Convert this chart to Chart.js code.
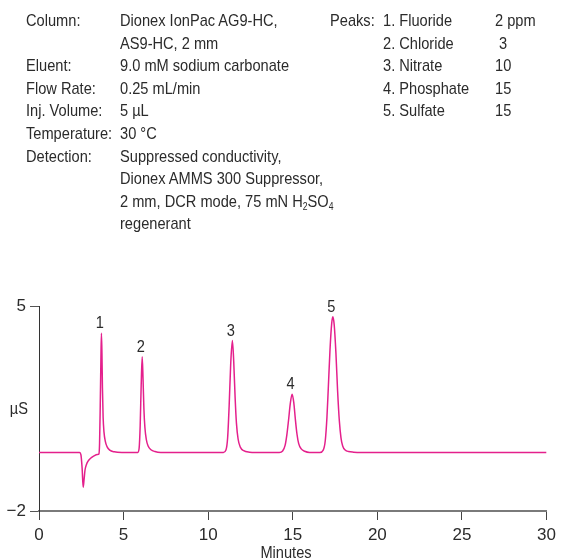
<!DOCTYPE html>
<html>
<head>
<meta charset="utf-8">
<script src="https://cdn.jsdelivr.net/npm/chart.js@4.4.1/dist/chart.umd.min.js"></script>
<style>
  body { margin: 0; background: #fff; }
  #wrap { position: relative; width: 561px; height: 559px; overflow: hidden; }
  canvas { position: absolute; left: 0; top: 0; }
  .txt { position: absolute; font-family: "Liberation Sans", Arial, sans-serif;
         font-size: 17px; line-height: 22.6px; color: #2b2b2b; white-space: nowrap;
         transform: scaleX(0.86); transform-origin: 0 0; }
  .txt sub { font-size: 10px; line-height: 0; vertical-align: -3px; }
  #minutes { position: absolute; top: 543px; left: 236px; width: 100px; text-align: center;
             font-family: "Liberation Sans", Arial, sans-serif; font-size: 17px; line-height: 20px; color: #2b2b2b;
             transform: scaleX(0.86); transform-origin: 50% 0; }
</style>
</head>
<body>
<div id="wrap">
  <canvas id="chart" width="561" height="559"></canvas>
  <div class="txt" id="condLabels" style="left:26px; top:10px;"></div>
  <div class="txt" id="condValues" style="left:120px; top:10px;"></div>
  <div class="txt" style="left:330px; top:10px;">Peaks:</div>
  <div class="txt" id="peakNames" style="left:383px; top:10px;"></div>
  <div class="txt" id="peakAmounts" style="left:495px; top:10px;"></div>
  <div id="minutes">Minutes</div>
</div>
<script>
// conditions text
var condLabels = ['Column:', '', 'Eluent:', 'Flow Rate:', 'Inj. Volume:', 'Temperature:', 'Detection:', '', '', ''];
var condValues = ['Dionex IonPac AG9-HC,', 'AS9-HC, 2 mm', '9.0 mM sodium carbonate', '0.25 mL/min', '5 µL', '30 °C',
                  'Suppressed conductivity,', 'Dionex AMMS 300 Suppressor,', '2 mm, DCR mode, 75 mN H<sub>2</sub>SO<sub>4</sub>', 'regenerant'];
var peakNames = ['1. Fluoride', '2. Chloride', '3. Nitrate', '4. Phosphate', '5. Sulfate'];
var peakAmounts = ['2 ppm', '&nbsp;3', '10', '15', '15'];

// chromatogram trace (minutes, µS)
var times  = [0, 2.40, 2.48, 2.55, 2.61, 2.66, 2.72, 2.80, 2.90, 3.05, 3.25, 3.45, 3.54,
              3.58, 3.62, 3.66, 3.69, 3.72, 3.75, 3.79, 3.84, 3.92, 4.02, 4.18, 4.45, 4.9,
              5.84, 5.92, 5.98, 6.04, 6.10, 6.15, 6.20, 6.26, 6.34, 6.45, 6.62, 6.85, 7.2,
              10.9, 11.05, 11.15, 11.24, 11.33, 11.43, 11.51, 11.59, 11.67, 11.77, 11.9, 12.1, 12.45, 12.8,
              14.2, 14.4, 14.55, 14.65, 14.75, 14.85, 14.96, 15.06, 15.15, 15.25, 15.35, 15.5, 15.7, 16.0,
              16.6, 16.8, 16.92, 17.02, 17.1, 17.2, 17.3, 17.37, 17.45, 17.55, 17.65, 17.75, 17.85, 17.95,
              18.1, 18.3, 18.6, 19.0, 30];
var signal = [0, 0, -0.08, -0.55, -1.19, -0.95, -0.6, -0.42, -0.3, -0.2, -0.12, -0.07, -0.05,
              0.3, 1.6, 3.2, 4.07, 3.4, 2.2, 1.2, 0.7, 0.38, 0.2, 0.08, 0.02, 0,
              0, 0.15, 0.9, 2.3, 3.27, 2.5, 1.5, 0.85, 0.45, 0.22, 0.09, 0.03, 0,
              0, 0.08, 0.5, 1.6, 3.0, 3.82, 3.1, 1.9, 1.0, 0.45, 0.18, 0.06, 0.01, 0,
              0, 0.05, 0.25, 0.6, 1.1, 1.65, 1.99, 1.7, 1.15, 0.62, 0.3, 0.12, 0.04, 0,
              0, 0.08, 0.4, 1.2, 2.2, 3.5, 4.4, 4.63, 4.35, 3.4, 2.1, 1.1, 0.5, 0.22,
              0.08, 0.03, 0.01, 0, 0];

// peak labels
var peakLabels = ['1', '2', '3', '4', '5'];
var peakTimes  = [3.69, 6.10, 11.43, 14.96, 17.37];
var peakTops   = [4.07, 3.27, 3.82, 1.99, 4.63];

var xTicks = [0, 5, 10, 15, 20, 25, 30];
var yTicks = [-2, 5];

document.getElementById('condLabels').innerHTML = condLabels.map(function (s) { return s || '&nbsp;'; }).join('<br>');
document.getElementById('condValues').innerHTML = condValues.join('<br>');
document.getElementById('peakNames').innerHTML = peakNames.join('<br>');
document.getElementById('peakAmounts').innerHTML = peakAmounts.join('<br>');

var punti = [];
for (var i = 0; i < times.length; i++) {
    punti.push({x: times[i], y: signal[i]});
}

var fontFam = '"Liberation Sans", Arial, sans-serif';

// testo stretto (condensed) centrato/allineato in x
function testoStretto(ctx, txt, x, y, align) {
    ctx.save();
    ctx.translate(x, y);
    ctx.scale(0.86, 1);
    ctx.textAlign = align;
    ctx.fillText(txt, 0, 0);
    ctx.restore();
}

var etichettePicchi = {
    id: 'etichettePicchi',
    afterDatasetsDraw: function (chart) {
        var ctx = chart.ctx;
        var sx = chart.scales.x, sy = chart.scales.y;
        ctx.save();
        ctx.font = '17px ' + fontFam;
        ctx.fillStyle = '#2b2b2b';
        ctx.textBaseline = 'alphabetic';
        for (var k = 0; k < peakLabels.length; k++) {
            testoStretto(ctx, peakLabels[k], sx.getPixelForValue(peakTimes[k]) - 1.5, sy.getPixelForValue(peakTops[k]) - 5, 'center');
        }
        // unita' orizzontale
        ctx.textBaseline = 'middle';
        testoStretto(ctx, 'µS', chart.chartArea.left - 11, (sy.top + sy.bottom) / 2 + 1, 'right');
        ctx.restore();
    }
};

var ctx = document.getElementById('chart');
var chart = new Chart(ctx, {
    type: 'line',
    data: {
        datasets: [{
            data: punti,
            borderColor: '#e4208c',
            borderWidth: 1.5,
            pointRadius: 0,
            fill: false,
            cubicInterpolationMode: 'monotone'
        }]
    },
    options: {
        responsive: false,
        animation: false,
        devicePixelRatio: 1,
        layout: { padding: { top: 306, right: 13, left: 0, bottom: 0 } },
        plugins: { legend: { display: false }, tooltip: { enabled: false } },
        scales: {
            x: {
                type: 'linear',
                min: 0, max: 30,
                afterBuildTicks: function (scale) { scale.ticks = xTicks.map(function (v) { return {value: v}; }); },
                afterFit: function (scale) { scale.height = 48; },
                border: { display: true, color: '#7a7a7a', width: 2 },
                grid: { drawOnChartArea: false, drawTicks: true, tickLength: 9, tickColor: '#444', tickWidth: 1 },
                ticks: { color: '#2b2b2b', font: { family: fontFam, size: 17 }, padding: 5, maxRotation: 0 }
            },
            y: {
                type: 'linear',
                min: -2, max: 5,
                afterBuildTicks: function (scale) { scale.ticks = yTicks.map(function (v) { return {value: v}; }); },
                afterFit: function (scale) { scale.width = 39; },
                border: { display: true, color: '#333', width: 1 },
                grid: { drawOnChartArea: false, drawTicks: true, tickLength: 9, tickColor: '#555', tickWidth: 1 },
                ticks: {
                    color: '#2b2b2b', font: { family: fontFam, size: 17 }, padding: 4,
                    callback: function (v) { return v < 0 ? '\u2212' + Math.abs(v) : String(v); }
                }
            }
        }
    },
    plugins: [etichettePicchi]
});
</script>
</body>
</html>
